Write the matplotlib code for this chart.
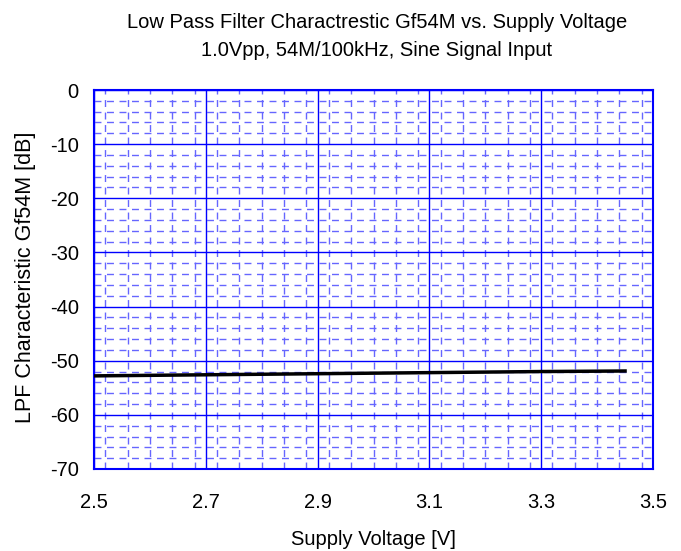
import matplotlib
matplotlib.use("Agg")
import matplotlib.pyplot as plt
from matplotlib.ticker import MultipleLocator

plt.rcParams['font.family'] = ['Liberation Sans', 'DejaVu Sans']

voltage = [2.5, 2.7, 2.9, 3.1, 3.3, 3.45]
gain_db = [-52.8, -52.6, -52.4, -52.2, -52.0, -51.9]
x_ticks = [2.5, 2.7, 2.9, 3.1, 3.3, 3.5]
y_ticks = [0, -10, -20, -30, -40, -50, -60, -70]

W, H = 681, 551
fig = plt.figure(figsize=(W/100, H/100), dpi=100)
ax = fig.add_axes([94/W, 1-469/H, (653-94)/W, (469-90)/H])

ax.set_xlim(2.5, 3.5)
ax.set_ylim(-70, 0)
ax.set_xticks(x_ticks)
ax.set_xticklabels([f"{v:.1f}" for v in x_ticks])
ax.set_yticks(y_ticks)
ax.set_yticklabels([str(v) for v in y_ticks])
ax.xaxis.set_minor_locator(MultipleLocator(0.04))
ax.yaxis.set_minor_locator(MultipleLocator(2))

ax.grid(which='minor', color='#6666ff', linestyle=(0, (5, 4)), linewidth=1.0)
ax.grid(which='major', color='#0000ff', linestyle='-', linewidth=1.0)
ax.set_axisbelow(True)
for s in ax.spines.values():
    s.set_color('#0000ff')
    s.set_linewidth(1.5)
ax.tick_params(which='both', length=0, labelsize=14.5)
ax.tick_params(axis='x', pad=17)
ax.tick_params(axis='y', pad=11)

ax.plot(voltage, gain_db, color='black', linewidth=2.5, zorder=5)

fig.text(373/W, 1-545/H, 'Supply Voltage [V]', ha='center', va='baseline', fontsize=14.5)
fig.text(26/W, 1-277/H, 'LPF Characteristic Gf54M [dB]', ha='center', va='center',
         rotation=90, fontsize=15.5)
fig.text(377/W, 1-28.3/H, 'Low Pass Filter Charactrestic Gf54M vs. Supply Voltage',
         ha='center', va='baseline', fontsize=14.5)
fig.text(377/W, 1-56/H, '1.0Vpp, 54M/100kHz, Sine Signal Input',
         ha='center', va='baseline', fontsize=14.5)

fig.savefig('out.png', dpi=100)
